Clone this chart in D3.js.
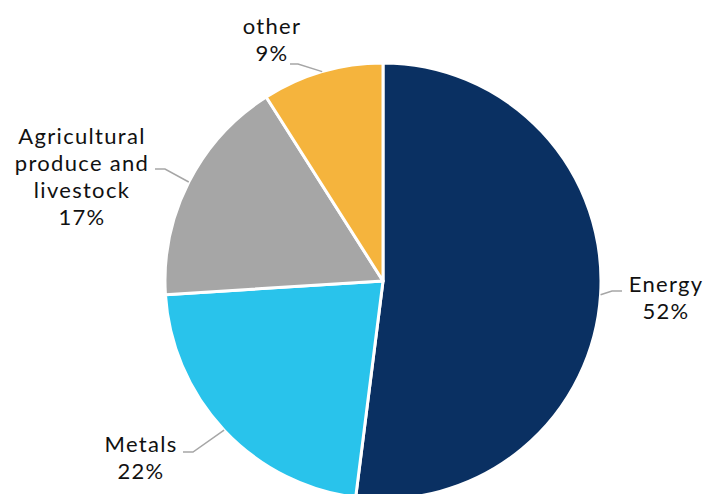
<!DOCTYPE html>
<html><head><meta charset="utf-8">
<script src="https://cdn.jsdelivr.net/npm/d3@7"></script>
<style>html,body{margin:0;padding:0;background:#fff;}svg{display:block;}</style>
</head><body>
<svg id="chart" width="706" height="494"></svg>
<script>
const categories = ["Energy", "Metals", "Agricultural produce and livestock", "other"];
const labelLines = [["Energy"], ["Metals"], ["Agricultural", "produce and", "livestock"], ["other"]];
const values = [52, 22, 17, 9];
const colors = ["#0a3062", "#29c3eb", "#a6a6a6", "#f5b43d"];

const svg = d3.select("#chart");
const cx = 383, cy = 281, R = 218;
const g = svg.append("g").attr("transform", `translate(${cx},${cy})`);

const data = categories.map((c, i) => ({cat: c, lines: labelLines[i], value: values[i], color: colors[i]}));
const pie = d3.pie().sort(null).value(d => d.value);
const arcs = pie(data);
const arc = d3.arc().innerRadius(0).outerRadius(R);

g.selectAll("path.slice").data(arcs).join("path")
  .attr("class", "slice")
  .attr("d", arc)
  .attr("fill", d => d.data.color)
  .attr("stroke", "#fff").attr("stroke-width", 3).attr("stroke-linejoin", "round");

// label layout (leader elbows & text anchor positions, px)
const layout = [
  {elbow: [612, 291], end: [622, 291], tx: 666, ty: 292},
  {elbow: [193, 452], end: [183, 452], tx: 141, ty: 452},
  {elbow: [165, 169], end: [155, 169], tx: 82, ty: 144},
  {elbow: [298, 64], end: [290, 64], tx: 272, ty: 34}
];

const fs = 22, lh = 27;
arcs.forEach((a, i) => {
  const mid = (a.startAngle + a.endAngle) / 2;
  const px = cx + R * Math.sin(mid), py = cy - R * Math.cos(mid);
  const L = layout[i];
  svg.append("polyline")
    .attr("points", [[px, py], L.elbow, L.end].map(p => p.join(",")).join(" "))
    .attr("fill", "none").attr("stroke", "#a6a6a6").attr("stroke-width", 1.5);
  const lines = a.data.lines.concat([d3.format(".0f")(a.data.value) + "%"]);
  lines.forEach((ln, k) => {
    svg.append("text")
      .attr("x", L.tx).attr("y", L.ty + k * lh)
      .attr("text-anchor", "middle")
      .attr("font-family", "Lato, 'Noto Sans', sans-serif")
      .attr("font-size", fs).attr("letter-spacing", 1.3).attr("fill", "#111")
      .text(ln);
  });
});
</script>
</body></html>
